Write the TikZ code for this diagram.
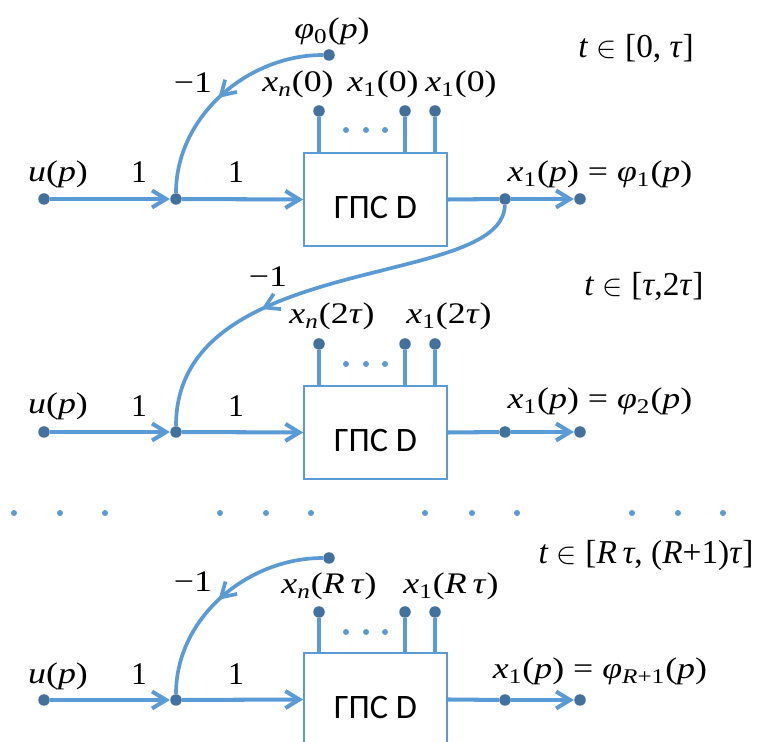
\documentclass[tikz,border=0pt]{standalone}
\usepackage{graphicx}
\usepackage{fontspec}
\setmainfont{Liberation Serif}
\newfontfamily\gpsfont{Carlito}
\usepackage{tikz}
\usetikzlibrary{arrows.meta, decorations.markings}
\definecolor{lineblue}{RGB}{91,155,213}
\definecolor{dotblue}{RGB}{65,113,156}
\newcommand{\ital}[1]{\textit{#1}}
\newcommand{\wlbl}[1]{\scalebox{1.2}[1]{#1}}
\newcommand{\gps}{\raisebox{-0.38cm}[0pt][0pt]{ГПС D}\hspace{0.6cm}}
\tikzstyle{vertex} = [circle, fill=dotblue, inner sep=0pt, minimum size=0.23cm]
\tikzstyle{smalldot} = [circle, fill=lineblue, inner sep=0pt, minimum size=0.12cm]
\tikzstyle{block} = [rectangle, draw=lineblue, line width=0.9pt, minimum width=2.86cm, minimum height=1.86cm, inner sep=0pt, font=\gpsfont\fontsize{19.5}{22}\selectfont]
\tikzstyle{lbl} = [inner sep=0pt, anchor=base, font=\fontsize{17}{20}\selectfont]
\tikzstyle{gain} = [inner sep=0pt, anchor=base, font=\fontsize{18}{20}\selectfont]
\tikzstyle{tlbl} = [inner sep=0pt, anchor=base, font=\fontsize{19}{22}\selectfont]
\tikzstyle{arrow} = [line width=2.3pt, draw=lineblue, -{Straight Barb[length=2.8mm,width=3.4mm]}]
\tikzstyle{wire} = [line width=2.3pt, draw=lineblue]
\tikzstyle{stub} = [line width=1.8pt, draw=lineblue]
\tikzset{fb/.style={line width=2.1pt, draw=lineblue, postaction={decorate},
  decoration={markings, mark=at position #1 with {\arrow{Straight Barb[length=2.8mm,width=3.4mm]}}}},
  fb/.default=0.52}

\begin{document}
\begin{tikzpicture}[x=0.02cm, y=-0.02cm]
        \clip (0,0) rectangle (761,742);

        % first interval
        \node (u1) [vertex] at (44,199) {};
        \node (j1) [vertex] at (176,199) {};
        \node (gps1) [block] at (375.5,199.5) {\gps};
        \node (o1) [vertex] at (505,199) {};
        \node (e1) [vertex] at (580,199) {};
        \node (phi0) [vertex] at (329,55) {};
        \node (a1) [vertex] at (319,111) {};
        \node (b1) [vertex] at (405,111) {};
        \node (c1) [vertex] at (435,111) {};
        \node (d1a) [smalldot] at (346,130) {};
        \node (d1b) [smalldot] at (366,130) {};
        \node (d1c) [smalldot] at (385,130) {};

        \node (lu1) [lbl] at (58,182) {\wlbl{\ital{u}(\ital{p})}};
        \node (lk1) [gain] at (139,183) {1};
        \node (lm1) [gain] at (236,183) {1};
        \node (lphi0) [lbl] at (332,39) {\wlbl{\ital{φ}\textsubscript{0}(\ital{p})}};
        \node (lneg1) [lbl] at (193,93) {\wlbl{−1}};
        \node (la1) [lbl] at (298,92) {\wlbl{\ital{x}\textsubscript{\ital{n}}(0)}};
        \node (lb1) [lbl] at (383,92) {\wlbl{\ital{x}\textsubscript{1}(0)}};
        \node (lc1) [lbl] at (461,92) {\wlbl{\ital{x}\textsubscript{1}(0)}};
        \node (lo1) [lbl] at (600,182) {\wlbl{\ital{x}\textsubscript{1}(\ital{p}) = \ital{φ}\textsubscript{1}(\ital{p})}};
        \node (lt1) [tlbl] at (636,58) {\ital{t} $\in$ [0, \ital{τ}]};

        \draw [arrow] (u1) -- (j1);
        \draw [arrow] (j1) -- (gps1.west);
        \draw [wire] (gps1.east) -- (o1);
        \draw [arrow] (o1) -- (e1);
        \draw [stub] (a1) -- (a1 |- gps1.north);
        \draw [stub] (b1) -- (b1 |- gps1.north);
        \draw [stub] (c1) -- (c1 |- gps1.north);
        \draw [fb] (phi0) .. controls (247,55) and (176,117) .. (j1);

        % second interval
        \node (u2) [vertex] at (44,432) {};
        \node (j2) [vertex] at (176,432) {};
        \node (gps2) [block] at (375.5,432.5) {\gps};
        \node (o2) [vertex] at (505,432) {};
        \node (e2) [vertex] at (580,432) {};
        \node (a2) [vertex] at (319,344) {};
        \node (b2) [vertex] at (405,344) {};
        \node (c2) [vertex] at (435,344) {};
        \node (d2a) [smalldot] at (346,364) {};
        \node (d2b) [smalldot] at (366,364) {};
        \node (d2c) [smalldot] at (385,364) {};

        \node (lu2) [lbl] at (58,414) {\wlbl{\ital{u}(\ital{p})}};
        \node (lk2) [gain] at (139,417) {1};
        \node (lm2) [gain] at (236,417) {1};
        \node (lneg2) [lbl] at (268,287) {\wlbl{−1}};
        \node (la2) [lbl] at (332,324) {\wlbl{\ital{x}\textsubscript{\ital{n}}(2\ital{τ})}};
        \node (lb2) [lbl] at (449,324) {\wlbl{\ital{x}\textsubscript{1}(2\ital{τ})}};
        \node (lo2) [lbl] at (600,409) {\wlbl{\ital{x}\textsubscript{1}(\ital{p}) = \ital{φ}\textsubscript{2}(\ital{p})}};
        \node (lt2) [tlbl] at (644,296) {\ital{t} $\in$ [\ital{τ},2\ital{τ}]};

        \draw [arrow] (u2) -- (j2);
        \draw [arrow] (j2) -- (gps2.west);
        \draw [wire] (gps2.east) -- (o2);
        \draw [arrow] (o2) -- (e2);
        \draw [stub] (a2) -- (a2 |- gps2.north);
        \draw [stub] (b2) -- (b2 |- gps2.north);
        \draw [stub] (c2) -- (c2 |- gps2.north);
        \draw [fb=0.64] (o1) .. controls (503,290) and (176,250) .. (j2);

        % row of dots
        \node (r1) [smalldot] at (14,513) {};
        \node (r2) [smalldot] at (60,513) {};
        \node (r3) [smalldot] at (105,513) {};
        \node (r4) [smalldot] at (220,513) {};
        \node (r5) [smalldot] at (266,513) {};
        \node (r6) [smalldot] at (311,513) {};
        \node (r7) [smalldot] at (425,513) {};
        \node (r8) [smalldot] at (472,513) {};
        \node (r9) [smalldot] at (517,513) {};
        \node (r10) [smalldot] at (632,513) {};
        \node (r11) [smalldot] at (678,513) {};
        \node (r12) [smalldot] at (723,513) {};

        % last interval
        \node (u3) [vertex] at (44,700) {};
        \node (j3) [vertex] at (176,700) {};
        \node (gps3) [block] at (375.5,699.5) {\gps};
        \node (o3) [vertex] at (505,700) {};
        \node (e3) [vertex] at (580,700) {};
        \node (phiR) [vertex] at (329,558) {};
        \node (a3) [vertex] at (319,612) {};
        \node (b3) [vertex] at (405,612) {};
        \node (c3) [vertex] at (435,612) {};
        \node (d3a) [smalldot] at (346,632) {};
        \node (d3b) [smalldot] at (366,632) {};
        \node (d3c) [smalldot] at (385,632) {};

        \node (lu3) [lbl] at (58,684) {\wlbl{\ital{u}(\ital{p})}};
        \node (lk3) [gain] at (139,685) {1};
        \node (lm3) [gain] at (236,685) {1};
        \node (lneg3) [lbl] at (193,592) {\wlbl{−1}};
        \node (la3) [lbl] at (329,594) {\wlbl{\ital{x}\textsubscript{\ital{n}}(\ital{R}\,\ital{τ})}};
        \node (lb3) [lbl] at (451,594) {\wlbl{\ital{x}\textsubscript{1}(\ital{R}\,\ital{τ})}};
        \node (lo3) [lbl] at (600,679) {\wlbl{\ital{x}\textsubscript{1}(\ital{p}) = \ital{φ}\textsubscript{\ital{R}+1}(\ital{p})}};
        \node (lt3) [tlbl] at (646,564) {\ital{t} $\in$ [\ital{R}\,\ital{τ}, (\ital{R}+1)\ital{τ}]};

        \draw [arrow] (u3) -- (j3);
        \draw [arrow] (j3) -- (gps3.west);
        \draw [wire] (gps3.east) -- (o3);
        \draw [arrow] (o3) -- (e3);
        \draw [stub] (a3) -- (a3 |- gps3.north);
        \draw [stub] (b3) -- (b3 |- gps3.north);
        \draw [stub] (c3) -- (c3 |- gps3.north);
        \draw [fb] (phiR) .. controls (247,558) and (176,618) .. (j3);
    \end{tikzpicture}
\end{document}
